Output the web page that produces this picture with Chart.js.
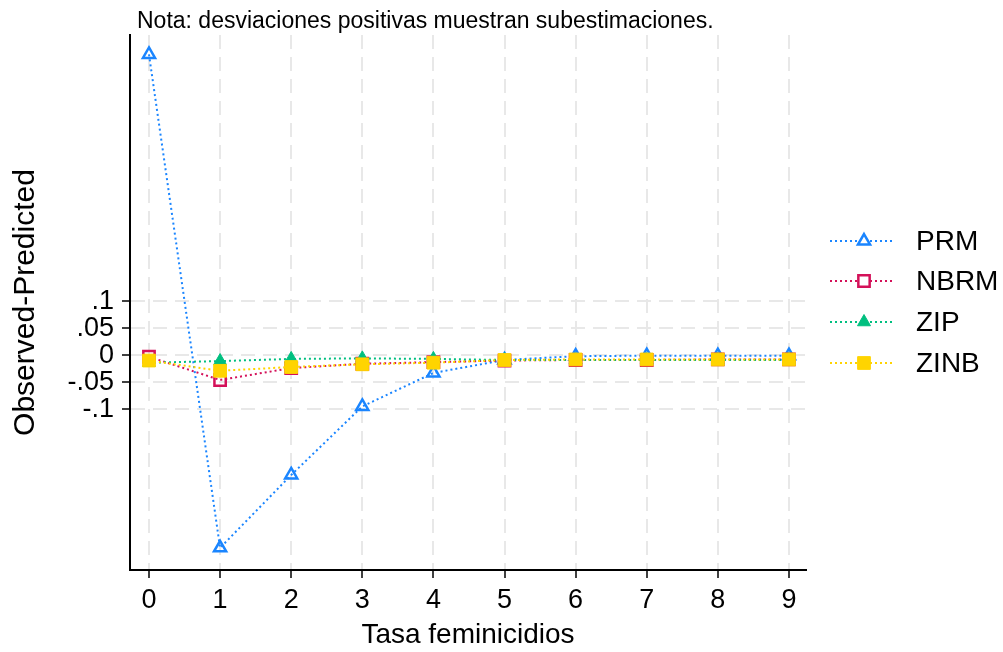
<!DOCTYPE html>
<html>
<head>
<meta charset="utf-8">
<script src="https://cdn.jsdelivr.net/npm/chart.js@4/dist/chart.umd.min.js"></script>
<style>
  html, body { margin: 0; padding: 0; background: #ffffff; }
  #wrap { width: 1003px; height: 652px; position: relative; }
</style>
</head>
<body>
<div id="wrap"><canvas id="c" width="1003" height="652"></canvas></div>
<script>
// Count values of the outcome (x axis)
const counts = [0, 1, 2, 3, 4, 5, 6, 7, 8, 9];

// Observed minus predicted probability for each count model
const prm  = [0.557, -0.357, -0.222, -0.095, -0.033, -0.009, -0.002, -0.001, -0.001, -0.001];
const nbrm = [-0.003, -0.046, -0.024, -0.016, -0.013, -0.010, -0.009, -0.009, -0.008, -0.008];
const zip  = [-0.014, -0.011, -0.007, -0.006, -0.007, -0.009, -0.009, -0.009, -0.009, -0.009];
const zinb = [-0.010, -0.029, -0.022, -0.017, -0.014, -0.009, -0.008, -0.008, -0.008, -0.008];

// Axis ticks
const yTicks = [-0.1, -0.05, 0, 0.05, 0.1];
const yTickLabels = ['-.1', '-.05', '0', '.05', '.1'];
const xTicks = counts;

const seriesNames = ['PRM', 'NBRM', 'ZIP', 'ZINB'];

const FONT = "'Liberation Sans', Arial, sans-serif";

const pts = arr => arr.map((v, i) => ({ x: counts[i], y: v }));

const styles = [
  { color: '#1a85ff', marker: 'triangle', hollow: true,  r: 7 },
  { color: '#d41159', marker: 'rect',     hollow: true,  r: 8 },
  { color: '#00bf7f', marker: 'triangle', hollow: false, r: 7.5 },
  { color: '#ffd400', marker: 'rect',     hollow: false, r: 9 }
];
const values = [prm, nbrm, zip, zinb];

const datasets = values.map((vals, k) => {
  const s = styles[k];
  return {
    label: seriesNames[k],
    data: pts(vals),
    borderColor: s.color,
    borderWidth: 2,
    borderDash: [2, 3],
    pointStyle: s.marker,
    pointRadius: s.r,
    pointHoverRadius: s.r,
    pointBorderWidth: s.hollow ? 2.5 : 1,
    pointBorderColor: s.color,
    pointBackgroundColor: s.hollow ? 'rgba(255,255,255,0)' : s.color,
    fill: false,
    tension: 0,
    order: 3 - k
  };
});

// Note above the plot and the legend on the right
const decorations = {
  id: 'decorations',
  afterDraw(chart) {
    const ctx = chart.ctx;
    ctx.save();
    ctx.fillStyle = '#000';
    ctx.font = '23px ' + FONT;
    ctx.textAlign = 'left';
    ctx.textBaseline = 'alphabetic';
    ctx.fillText('Nota: desviaciones positivas muestran subestimaciones.', 137, 28);

    const rows = [241, 281, 322, 363];
    seriesNames.forEach((name, k) => {
      const s = styles[k];
      const y = rows[k];
      ctx.save();
      ctx.strokeStyle = s.color;
      ctx.lineWidth = 2;
      ctx.setLineDash([2, 3]);
      ctx.beginPath();
      ctx.moveTo(830, y);
      ctx.lineTo(895, y);
      ctx.stroke();
      ctx.setLineDash([]);
      const cx = 864;
      ctx.beginPath();
      if (s.marker === 'triangle') {
        const r = s.r;
        ctx.moveTo(cx, y - r);
        ctx.lineTo(cx + r * Math.sqrt(3) / 2, y + r / 2);
        ctx.lineTo(cx - r * Math.sqrt(3) / 2, y + r / 2);
        ctx.closePath();
      } else {
        const h = s.r * Math.SQRT1_2;
        ctx.rect(cx - h, y - h, 2 * h, 2 * h);
      }
      if (s.hollow) {
        ctx.fillStyle = '#fff';
        ctx.fill();
        ctx.lineWidth = 2.5;
      } else {
        ctx.fillStyle = s.color;
        ctx.fill();
        ctx.lineWidth = 1;
      }
      ctx.strokeStyle = s.color;
      ctx.stroke();
      ctx.restore();

      ctx.fillStyle = '#000';
      ctx.font = '28px ' + FONT;
      ctx.textBaseline = 'middle';
      ctx.fillText(name, 916, y + 1);
    });
    ctx.restore();
  }
};

new Chart(document.getElementById('c'), {
  type: 'line',
  data: { datasets },
  plugins: [decorations],
  options: {
    responsive: false,
    animation: false,
    events: [],
    layout: { padding: { left: 0, top: 35, right: 197, bottom: 0 } },
    plugins: { legend: { display: false }, tooltip: { enabled: false } },
    scales: {
      x: {
        type: 'linear',
        min: -0.267,
        max: 9.24,
        afterBuildTicks: scale => { scale.ticks = xTicks.map(v => ({ value: v })); },
        afterFit: scale => { scale.height = 82; },
        ticks: {
          color: '#000',
          font: { family: FONT, size: 27 },
          padding: 6,
          maxRotation: 0,
          autoSkip: false,
          callback: v => String(v)
        },
        grid: {
          color: '#e8e8e8',
          lineWidth: 2,
          tickColor: '#000',
          tickLength: 8,
          tickWidth: 1.5,
          tickBorderDash: []
        },
        border: { display: true, color: '#000', width: 2, dash: [14, 8] },
        title: {
          display: true,
          text: 'Tasa feminicidios',
          color: '#000',
          font: { family: FONT, size: 28 },
          padding: 0
        }
      },
      y: {
        type: 'linear',
        min: -0.398,
        max: 0.593,
        afterBuildTicks: scale => { scale.ticks = yTicks.map(v => ({ value: v })); },
        afterFit: scale => { scale.width = 130; },
        ticks: {
          color: '#000',
          font: { family: FONT, size: 27 },
          padding: 8,
          autoSkip: false,
          callback: v => {
            const i = yTicks.findIndex(t => Math.abs(t - v) < 1e-9);
            return i >= 0 ? yTickLabels[i] : '';
          }
        },
        grid: {
          color: '#e8e8e8',
          lineWidth: 2,
          tickColor: '#000',
          tickLength: 8,
          tickWidth: 1.5,
          tickBorderDash: []
        },
        border: { display: true, color: '#000', width: 2, dash: [14, 8] },
        title: {
          display: true,
          text: 'Observed-Predicted',
          color: '#000',
          font: { family: FONT, size: 30 },
          padding: 8
        }
      }
    }
  }
});
</script>
</body>
</html>
